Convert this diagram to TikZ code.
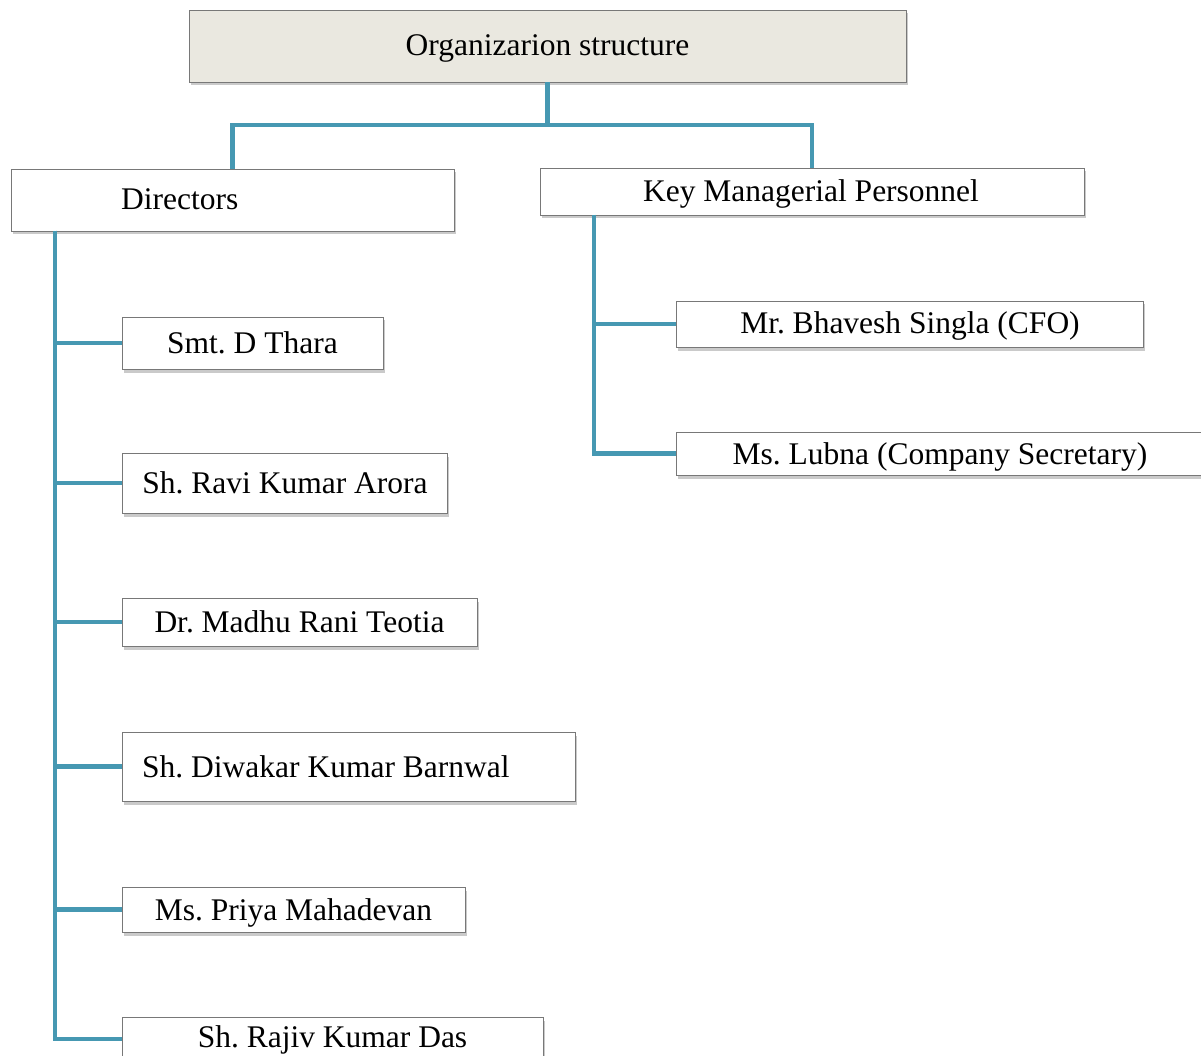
\documentclass[tikz,border=0pt]{standalone}
\usepackage{fontspec}
\setmainfont{Liberation Serif}
\frenchspacing
\usetikzlibrary{shadows}
\definecolor{conncol}{RGB}{70,152,178}
\definecolor{topfill}{RGB}{234,232,224}
\definecolor{boxline}{RGB}{120,120,120}
\begin{document}
\begin{tikzpicture}[x=1pt,y=-1pt,
  box/.style={draw=boxline, line width=0.9pt, fill=white, rectangle, inner sep=0pt,
    font=\fontsize{31.5}{36}\selectfont\frenchspacing,
    drop shadow={shadow xshift=1.5pt, shadow yshift=-3.5pt, opacity=0.35, fill=black!60}},
  lbl/.style={inner sep=0pt, font=\fontsize{31.5}{36}\selectfont\frenchspacing},
  conn/.style={draw=conncol, line width=4.5pt}]
\useasboundingbox (0,0) rectangle (1201,1056);
\clip (0,0) rectangle (1201,1056);
\coordinate (jm) at (547.5,125);
% boxes
\node[box, fill=topfill, minimum width=717pt, minimum height=72pt] (org) at (547.5,46) {};
\node[box, minimum width=443pt, minimum height=62pt] (dir) at (232.5,200) {};
\node[box, minimum width=544pt, minimum height=47pt] (kmp) at (812,191.5) {};
\node[box, minimum width=467pt, minimum height=46pt] (bhav) at (909.5,324) {};
\node[box, minimum width=530pt, minimum height=43pt] (lubna) at (941,453.5) {};
\node[box, minimum width=261pt, minimum height=52pt] (thara) at (252.5,343) {};
\node[box, minimum width=325pt, minimum height=60pt] (ravi) at (284.5,483) {};
\node[box, minimum width=355pt, minimum height=48pt] (madhu) at (299.5,622) {};
\node[box, minimum width=453pt, minimum height=69pt] (diwakar) at (348.5,766.5) {};
\node[box, minimum width=343pt, minimum height=45pt] (priya) at (293.5,909.5) {};
\node[box, minimum width=421pt, minimum height=44pt] (rajiv) at (332.5,1039) {};
% texts
\node[lbl, anchor=base] (orgt) at (547.5,56) {Organizarion structure};
\node[lbl, anchor=base west] (dirt) at (121,210) {Directors};
\node[lbl, anchor=base] (kmpt) at (811,202) {Key Managerial Personnel};
\node[lbl, anchor=base] (bhavt) at (910,334) {Mr. Bhavesh Singla (CFO)};
\node[lbl, anchor=base] (lubnat) at (940,464) {Ms. Lubna (Company Secretary)};
\node[lbl, anchor=base] (tharat) at (252.5,353) {Smt. D Thara};
\node[lbl, anchor=base] (ravit) at (285,493) {Sh. Ravi Kumar Arora};
\node[lbl, anchor=base] (madhut) at (299.5,632) {Dr. Madhu Rani Teotia};
\node[lbl, anchor=base west] (diwt) at (142,777) {Sh. Diwakar Kumar Barnwal};
\node[lbl, anchor=base] (priyat) at (293.5,920) {Ms. Priya Mahadevan};
\node[lbl, anchor=base] (rajivt) at (332.5,1047) {Sh. Rajiv Kumar Das};
% connectors
\draw[conn] (org.south) -- (jm);
\draw[conn] (jm) -| ([yshift=-0.5pt]dir.north);
\draw[conn] (jm) -| ([yshift=-0.5pt]kmp.north);
\foreach \c in {thara,ravi,madhu,diwakar,priya,rajiv}{
  \draw[conn] ([yshift=0.5pt]dir.south -| 55,0) |- (\c.west);
}
\foreach \c in {bhav,lubna}{
  \draw[conn] ([yshift=0.5pt]kmp.south -| 594,0) |- (\c.west);
}
\end{tikzpicture}
\end{document}
